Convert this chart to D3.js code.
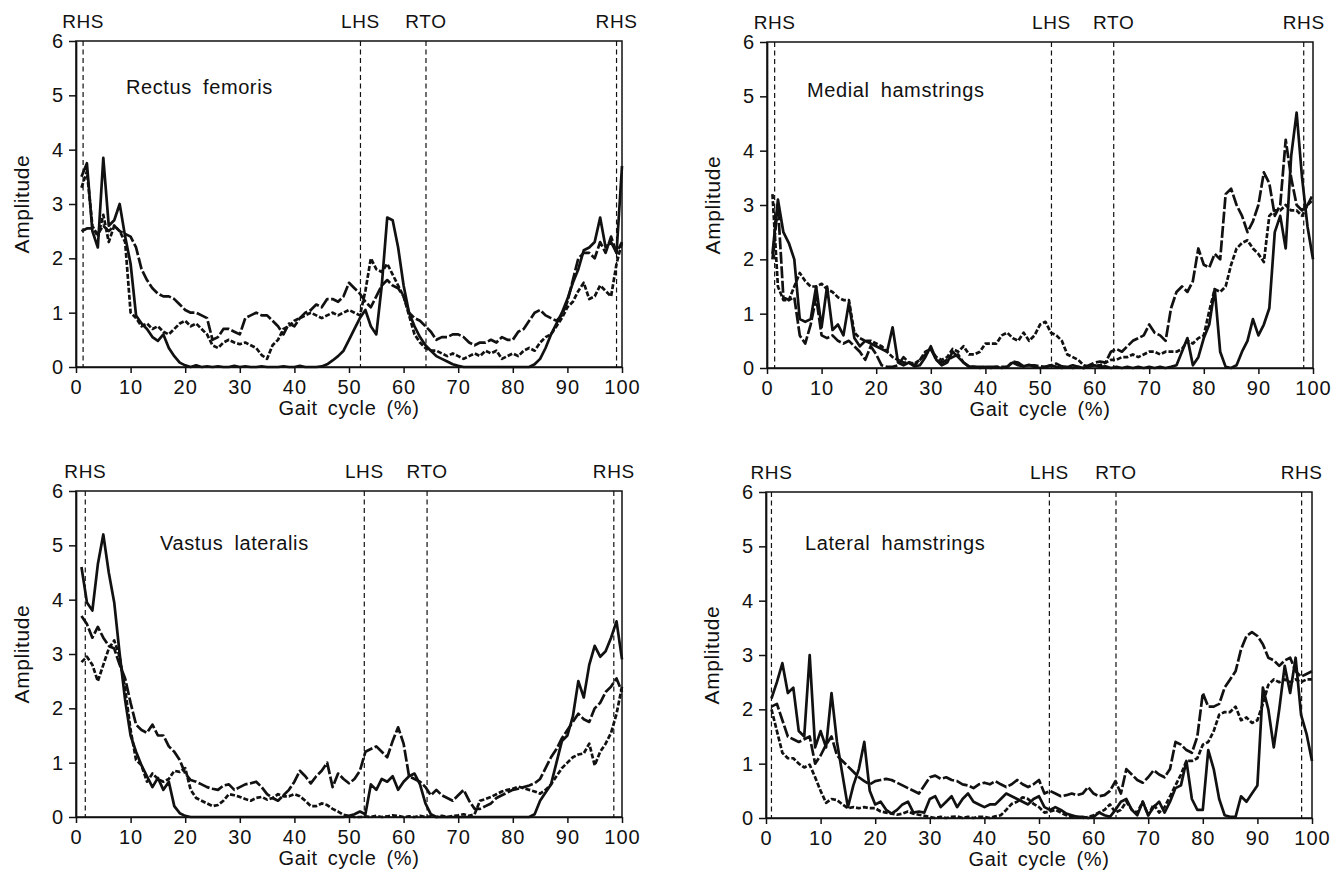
<!DOCTYPE html>
<html>
<head>
<meta charset="utf-8">
<script src="https://cdn.jsdelivr.net/npm/d3@7"></script>
<style>
body { margin: 0; background: #fff; }
svg { display: block; font-family: "Liberation Sans", Arial, Helvetica, sans-serif; }
</style>
</head>
<body>
<svg id="chart" width="1342" height="879"></svg>
<script>

/*****************************/
// Data
/*****************************/

// Gait cycle sample points (%)
var gaitPct = d3.range(1, 101);

var xTicks = [0, 10, 20, 30, 40, 50, 60, 70, 80, 90, 100];
var yTicks = [0, 1, 2, 3, 4, 5, 6];
var eventNames = ["RHS", "LHS", "RTO", "RHS"];

// Event positions (% gait cycle) per muscle
var rectusEvents  = [1.3, 52.1, 64.1, 99.0];
var medialEvents  = [1.4, 52.1, 63.5, 98.3];
var vastusEvents  = [1.7, 52.8, 64.3, 98.5];
var lateralEvents = [1.0, 51.9, 64.1, 98.1];

// Rectus femoris
var rectusSolid = [3.5,3.75,2.5,2.2,3.85,2.6,2.7,3.0,2.4,1.9,
  0.95,0.8,0.7,0.55,0.48,0.6,0.35,0.2,0.08,0.03,
  0,0.03,0,0.01,0,0.01,0,0,0.02,0,
  0.01,0,0,0.01,0,0,0,0.01,0,0,
  0.02,0,0,0,0.01,0.05,0.12,0.2,0.3,0.5,
  0.7,0.9,1.05,0.75,0.6,1.5,2.75,2.7,2.2,1.5,
  1.0,0.75,0.55,0.4,0.3,0.2,0.15,0.1,0.05,0.02,
  0,0,0,0,0,0,0,0,0,0,
  0,0,0,0.05,0.15,0.35,0.6,0.8,1.0,1.25,
  1.55,1.8,2.15,2.2,2.3,2.75,2.2,2.3,2.1,3.7];
var rectusUpper = [2.5,2.55,2.55,2.45,2.6,2.5,2.6,2.5,2.45,2.4,
  2.2,1.8,1.6,1.45,1.35,1.3,1.3,1.25,1.15,1.05,
  1.0,1.0,0.95,0.9,0.5,0.55,0.7,0.7,0.65,0.6,
  0.9,0.95,1.0,0.95,0.95,0.85,0.75,0.6,0.8,0.75,
  0.9,1.0,1.05,1.15,1.1,1.25,1.25,1.2,1.3,1.55,
  1.45,1.35,1.2,1.1,1.3,1.5,1.6,1.5,1.45,1.3,
  1.0,0.9,0.85,0.75,0.65,0.5,0.55,0.55,0.6,0.6,
  0.55,0.45,0.4,0.45,0.45,0.5,0.45,0.55,0.5,0.5,
  0.65,0.7,0.85,1.0,1.05,0.95,0.9,0.85,0.95,1.2,
  1.6,2.0,2.1,2.1,2.0,2.3,2.1,2.4,2.1,2.3];
var rectusDashed = [3.3,3.6,2.6,2.4,2.8,2.3,2.6,2.5,2.3,1.0,
  0.9,0.75,0.8,0.7,0.75,0.65,0.6,0.7,0.8,0.85,
  0.75,0.8,0.7,0.6,0.4,0.35,0.45,0.5,0.45,0.42,
  0.45,0.4,0.35,0.22,0.15,0.4,0.5,0.7,0.75,0.85,
  0.9,0.95,1.0,0.95,0.9,0.95,1.0,0.95,1.0,1.05,
  1.0,0.95,1.4,2.0,1.8,1.75,1.9,1.7,1.5,1.3,
  0.95,0.6,0.45,0.35,0.3,0.3,0.25,0.2,0.25,0.2,
  0.15,0.2,0.25,0.2,0.3,0.25,0.3,0.15,0.2,0.25,
  0.2,0.3,0.35,0.3,0.45,0.55,0.6,0.75,0.9,1.1,
  1.2,1.4,1.55,1.25,1.3,1.5,1.4,1.3,1.9,2.3];

// Medial hamstrings
var medialSolid = [2.1,3.1,2.5,2.3,2.0,0.9,0.85,0.9,1.5,0.75,
  1.5,0.7,0.8,0.6,1.2,0.55,0.4,0.5,0.45,0.4,
  0.35,0.3,0.75,0.1,0.05,0.1,0.03,0.05,0.2,0.4,
  0.15,0.05,0.1,0.3,0.2,0.1,0.03,0.02,0,0.02,
  0,0.02,0,0.02,0.1,0.05,0.03,0.06,0.02,0,
  0.02,0.05,0.02,0,0.02,0,0.02,0,0.03,0.05,
  0.02,0.03,0,0.02,0,0.02,0,0.02,0,0.02,
  0,0.02,0,0.02,0.05,0.3,0.55,0.05,0.2,0.55,
  0.8,1.45,0.3,0.02,0,0.05,0.3,0.5,0.9,0.6,
  0.8,1.1,2.5,2.8,2.2,3.9,4.7,3.5,2.6,2.0];
var medialDashed = [2.0,3.0,1.3,1.25,1.3,0.6,0.45,0.8,1.3,0.6,
  0.55,0.6,0.5,0.45,0.5,0.4,0.3,0.15,0.4,0.25,
  0.05,0.02,0.02,0.05,0.2,0.1,0.05,0.15,0.25,0.35,
  0.15,0.1,0.15,0.2,0.25,0.1,0.02,0.02,0.02,0.02,
  0.02,0.02,0.02,0.02,0.12,0.1,0.03,0.05,0.05,0.03,
  0.02,0.05,0.08,0.03,0.02,0.05,0.02,0,0.05,0.1,
  0.12,0.1,0.3,0.35,0.3,0.4,0.5,0.55,0.6,0.8,
  0.65,0.6,0.5,1.1,1.4,1.5,1.4,1.6,2.2,1.9,
  1.85,2.1,2.0,3.2,3.3,3.0,2.8,2.5,2.7,3.0,
  3.6,3.4,2.8,3.0,4.2,3.5,3.0,2.9,3.0,3.2];
var medialDotted = [3.2,1.5,1.25,1.25,1.5,1.75,1.6,1.5,1.5,1.55,
  1.45,1.4,1.3,1.25,1.25,0.65,0.55,0.5,0.5,0.45,
  0.4,0.3,0.2,0.15,0.1,0.1,0.08,0.15,0.3,0.35,
  0.2,0.15,0.2,0.35,0.3,0.4,0.25,0.25,0.3,0.45,
  0.45,0.45,0.6,0.65,0.55,0.5,0.65,0.5,0.6,0.8,
  0.85,0.65,0.6,0.5,0.25,0.2,0.15,0.05,0.03,0.05,
  0.05,0.1,0.15,0.15,0.2,0.2,0.25,0.2,0.25,0.3,
  0.3,0.25,0.3,0.3,0.3,0.35,0.5,0.45,0.55,0.6,
  1.05,1.45,1.4,1.5,1.9,2.2,2.3,2.35,2.2,2.1,
  1.95,2.8,2.9,2.9,3.0,2.9,2.9,2.8,3.0,3.1];

// Vastus lateralis
var vastusSolid = [4.6,3.95,3.8,4.65,5.2,4.5,3.95,3.0,2.15,1.5,
  1.2,0.95,0.75,0.55,0.72,0.5,0.65,0.2,0.07,0.02,
  0,0,0,0,0,0,0,0,0,0,
  0,0,0,0,0,0,0,0,0,0,
  0,0,0,0,0,0,0,0,0,0.02,
  0.05,0.1,0.05,0.6,0.5,0.7,0.65,0.75,0.5,0.65,
  0.75,0.8,0.6,0.25,0.05,0,0,0,0,0,
  0,0,0,0,0,0,0,0,0,0,
  0,0,0,0.05,0.3,0.45,0.6,1.0,1.4,1.5,
  1.85,2.5,2.2,2.8,3.15,2.95,3.05,3.3,3.6,2.9];
var vastusDashed = [3.7,3.55,3.3,3.5,3.3,3.15,3.1,2.8,2.55,2.1,
  1.7,1.6,1.55,1.7,1.5,1.5,1.3,1.2,1.05,0.8,
  0.68,0.65,0.6,0.55,0.52,0.5,0.58,0.6,0.5,0.55,
  0.6,0.62,0.65,0.55,0.42,0.35,0.3,0.4,0.5,0.65,
  0.85,0.75,0.62,0.75,0.85,1.0,0.55,0.8,0.7,0.62,
  0.7,0.85,1.2,1.25,1.3,1.2,1.1,1.4,1.65,1.35,
  0.75,0.7,0.65,0.55,0.4,0.5,0.4,0.35,0.3,0.4,
  0.5,0.3,0.15,0.15,0.2,0.25,0.35,0.4,0.45,0.5,
  0.52,0.55,0.58,0.62,0.7,0.9,1.1,1.25,1.45,1.6,
  1.75,1.9,1.8,1.75,2.0,2.1,2.3,2.4,2.55,2.3];
var vastusDotted = [2.85,2.95,2.8,2.5,2.8,3.1,3.25,2.95,2.35,1.6,
  1.05,0.95,0.65,0.8,0.7,0.65,0.7,0.85,0.83,0.9,
  0.5,0.35,0.3,0.25,0.2,0.22,0.3,0.42,0.4,0.37,
  0.33,0.3,0.35,0.37,0.32,0.35,0.42,0.38,0.38,0.42,
  0.38,0.3,0.2,0.2,0.25,0.22,0.15,0.1,0.04,0.02,
  0,0,0.01,0,0.02,0,0.01,0.03,0.02,0,
  0.01,0,0.02,0,0.01,0,0.02,0,0.02,0.03,
  0.05,0.02,0.05,0.3,0.33,0.37,0.42,0.47,0.5,0.52,
  0.56,0.53,0.5,0.47,0.43,0.5,0.6,0.75,0.9,1.0,
  1.1,1.15,1.17,1.35,0.95,1.2,1.35,1.55,1.9,2.4];

// Lateral hamstrings
var lateralSolid = [2.2,2.5,2.85,2.3,2.4,1.6,1.5,3.0,1.3,1.6,
  1.3,2.3,1.4,0.8,0.2,0.6,0.9,1.4,0.5,0.25,
  0.3,0.15,0.08,0.15,0.25,0.3,0.1,0.12,0.1,0.35,
  0.4,0.2,0.3,0.4,0.2,0.35,0.45,0.3,0.25,0.2,
  0.25,0.25,0.35,0.45,0.4,0.35,0.3,0.25,0.35,0.4,
  0.2,0.15,0.2,0.15,0.08,0.05,0.02,0.02,0,0.02,
  0.1,0.05,0.02,0.15,0.3,0.35,0.15,0.05,0.3,0.05,
  0.2,0.3,0.1,0.3,0.55,0.6,1.05,0.35,0.15,0.15,
  1.25,0.9,0.35,0.05,0.02,0.02,0.4,0.3,0.45,0.6,
  2.4,2.0,1.3,2.0,2.8,2.3,2.95,1.9,1.55,1.05];
var lateralDashed = [2.05,2.1,1.8,1.5,1.45,1.4,1.45,1.5,1.0,1.15,
  1.35,1.5,1.15,1.05,0.95,0.85,0.75,0.68,0.62,0.68,
  0.7,0.72,0.7,0.65,0.6,0.55,0.5,0.45,0.6,0.75,
  0.78,0.72,0.75,0.7,0.68,0.62,0.6,0.55,0.62,0.65,
  0.62,0.68,0.62,0.57,0.62,0.7,0.62,0.57,0.62,0.7,
  0.45,0.5,0.45,0.4,0.42,0.45,0.42,0.45,0.57,0.45,
  0.4,0.42,0.5,0.68,0.45,0.9,0.8,0.7,0.65,0.75,
  0.88,0.8,0.75,0.9,1.4,1.35,1.25,1.2,1.5,2.3,
  2.05,2.05,2.1,2.4,2.55,2.7,3.1,3.35,3.42,3.35,
  3.2,2.95,2.9,2.8,2.9,2.95,2.7,2.6,2.65,2.7];
var lateralLower = [2.0,1.6,1.2,1.1,1.1,1.0,0.93,0.98,0.75,0.5,
  0.28,0.35,0.33,0.25,0.18,0.2,0.18,0.2,0.18,0.18,
  0.12,0.1,0.08,0.06,0.08,0.12,0.08,0.06,0.04,0.02,
  0,0.02,0,0.02,0.03,0,0.02,0,0.02,0.02,
  0,0.03,0.05,0.15,0.26,0.3,0.38,0.35,0.26,0.2,
  0.1,0.12,0.15,0.1,0.05,0.02,0.02,0,0.02,0.05,
  0.1,0.15,0.25,0.1,0.15,0.3,0.15,0.1,0.3,0.05,
  0.25,0.1,0.2,0.4,0.6,0.8,1.05,1.05,1.1,1.35,
  1.4,1.6,1.9,1.95,1.95,2.05,1.8,1.85,1.75,1.8,
  2.1,2.45,2.55,2.5,2.55,2.5,2.55,2.5,2.55,2.55];

/*****************************/
// Layout
/*****************************/

var panelWidth = 546,
    panelHeight = 326;

var panels = [
  { title: "Rectus femoris", events: rectusEvents, series: [rectusSolid, rectusUpper, rectusDashed],
    left: 76, top: 41, titleX: 50, titleY: 53 },
  { title: "Medial hamstrings", events: medialEvents, series: [medialSolid, medialDashed, medialDotted],
    left: 767, top: 42, titleX: 40, titleY: 55 },
  { title: "Vastus lateralis", events: vastusEvents, series: [vastusSolid, vastusDashed, vastusDotted],
    left: 76, top: 491, titleX: 84, titleY: 59 },
  { title: "Lateral hamstrings", events: lateralEvents, series: [lateralSolid, lateralDashed, lateralLower],
    left: 766, top: 492, titleX: 39, titleY: 58 }
];

// solid, dashed, dotted
var lineDash = [null, "12,2.5", "5,2"];

var svg = d3.select('#chart');

var drawPanel = function(p) {

    var g = svg.append('g')
        .attr('transform', 'translate(' + p.left + ',' + p.top + ')');

    var x = d3.scaleLinear().domain([0, 100]).range([0, panelWidth]);
    var y = d3.scaleLinear().domain([0, 6]).range([panelHeight, 0]);

    // Frame
    g.append('rect')
        .attr('width', panelWidth)
        .attr('height', panelHeight)
        .attr('fill', 'none')
        .attr('stroke', '#111')
        .attr('stroke-width', 1.5);

    // Event markers
    g.selectAll('.event-line')
        .data(p.events)
        .enter().append('line')
        .attr('class', 'event-line')
        .attr('x1', function(d) { return x(d); })
        .attr('x2', function(d) { return x(d); })
        .attr('y1', 0)
        .attr('y2', panelHeight)
        .attr('stroke', '#111')
        .attr('stroke-width', 1.2)
        .attr('stroke-dasharray', '5,3.5');

    g.selectAll('.event-label')
        .data(p.events)
        .enter().append('text')
        .attr('class', 'event-label')
        .attr('x', function(d) { return x(d); })
        .attr('y', -13)
        .attr('text-anchor', 'middle')
        .attr('font-size', '19px')
        .attr('letter-spacing', '0.6px')
        .attr('fill', '#111')
        .text(function(d, i) { return eventNames[i]; });

    // EMG traces
    var line = d3.line()
        .x(function(d, i) { return x(gaitPct[i]); })
        .y(function(d) { return y(d); });

    p.series.forEach(function(s, k) {
        g.append('path')
            .datum(s)
            .attr('d', line)
            .attr('fill', 'none')
            .attr('stroke', '#111')
            .attr('stroke-width', 2.7)
            .attr('stroke-linejoin', 'round')
            .attr('stroke-dasharray', lineDash[k]);
    });

    // Axes
    var xAxis = g.append('g')
        .attr('transform', 'translate(0,' + panelHeight + ')')
        .call(d3.axisBottom(x).tickValues(xTicks).tickFormat(d3.format('d'))
            .tickSize(6).tickSizeOuter(0).tickPadding(7));

    var yAxis = g.append('g')
        .call(d3.axisLeft(y).tickValues(yTicks).tickFormat(d3.format('d'))
            .tickSize(7).tickSizeOuter(0).tickPadding(5));

    [xAxis, yAxis].forEach(function(a) {
        a.attr('font-family', null).attr('font-size', '20px');
        a.select('.domain').attr('stroke', '#111').attr('stroke-width', 1.7);
        a.selectAll('.tick line').attr('stroke', '#111').attr('stroke-width', 1.5);
        a.selectAll('.tick text').attr('fill', '#111').attr('letter-spacing', '1px');
    });

    // Axis titles
    g.append('text')
        .attr('transform', 'translate(-47,' + (panelHeight / 2) + ') rotate(-90)')
        .attr('text-anchor', 'middle')
        .attr('font-size', '21px')
        .attr('letter-spacing', '0.6px')
        .attr('fill', '#111')
        .text('Amplitude');

    g.append('text')
        .attr('x', panelWidth / 2)
        .attr('y', panelHeight + 48)
        .attr('text-anchor', 'middle')
        .attr('font-size', '20px')
        .attr('letter-spacing', '0.6px')
        .attr('word-spacing', '4px')
        .attr('fill', '#111')
        .text('Gait cycle (%)');

    // Muscle name
    g.append('text')
        .attr('x', p.titleX)
        .attr('y', p.titleY)
        .attr('font-size', '20px')
        .attr('letter-spacing', '0.6px')
        .attr('word-spacing', '5px')
        .attr('fill', '#111')
        .text(p.title);
}

panels.forEach(drawPanel);

</script>
